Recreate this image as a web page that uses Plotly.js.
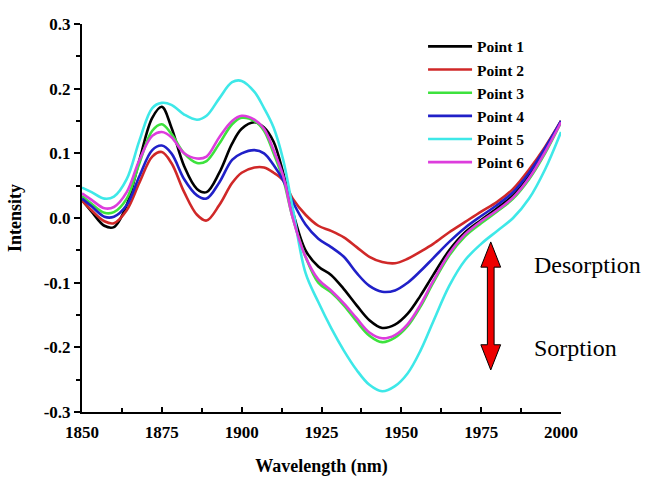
<!DOCTYPE html>
<html>
<head>
<meta charset="utf-8">
<script src="https://cdn.plot.ly/plotly-3.0.1.min.js"></script>
<style>html,body{margin:0;padding:0;background:#fff;}#chart{width:653px;height:477px;}</style>
</head>
<body>
<div id="chart"></div>
<script>
const wavelength = [1850,1853,1857,1860,1864,1868,1872,1875,1878,1882,1886,1889,1893,1897,1900,1904,1907,1910,1913,1916,1920,1924,1928,1932,1936,1940,1944,1948,1952,1956,1960,1965,1970,1975,1980,1985,1990,1995,2000];

const point1 = [0.028,0.010,-0.012,-0.014,0.020,0.090,0.155,0.172,0.140,0.080,0.045,0.040,0.070,0.115,0.138,0.148,0.140,0.118,0.070,0.010,-0.050,-0.075,-0.088,-0.110,-0.135,-0.158,-0.170,-0.165,-0.148,-0.120,-0.088,-0.050,-0.022,-0.003,0.015,0.035,0.065,0.105,0.150];
const point2 = [0.027,0.012,-0.005,-0.008,0.012,0.055,0.095,0.102,0.085,0.040,0.005,-0.004,0.020,0.054,0.070,0.078,0.078,0.070,0.058,0.030,0.005,-0.012,-0.020,-0.030,-0.045,-0.060,-0.068,-0.070,-0.063,-0.052,-0.040,-0.022,-0.006,0.010,0.025,0.045,0.075,0.110,0.150];
const point3 = [0.034,0.022,0.008,0.009,0.030,0.085,0.135,0.145,0.130,0.100,0.085,0.088,0.115,0.145,0.155,0.150,0.135,0.100,0.060,0.000,-0.060,-0.100,-0.115,-0.135,-0.160,-0.182,-0.192,-0.185,-0.167,-0.137,-0.100,-0.058,-0.028,-0.008,0.010,0.030,0.060,0.100,0.148];
const point4 = [0.030,0.018,0.002,0.002,0.020,0.065,0.105,0.112,0.100,0.060,0.035,0.030,0.055,0.090,0.100,0.105,0.100,0.082,0.058,0.025,-0.010,-0.032,-0.045,-0.060,-0.085,-0.105,-0.114,-0.112,-0.100,-0.082,-0.062,-0.037,-0.015,0.003,0.020,0.040,0.070,0.108,0.150];
const point5 = [0.047,0.040,0.030,0.033,0.060,0.120,0.170,0.178,0.175,0.160,0.152,0.158,0.185,0.210,0.212,0.195,0.170,0.140,0.090,0.015,-0.085,-0.130,-0.170,-0.205,-0.235,-0.258,-0.268,-0.260,-0.240,-0.205,-0.160,-0.105,-0.065,-0.040,-0.020,0.000,0.030,0.075,0.133];
const point6 = [0.038,0.028,0.015,0.017,0.040,0.090,0.127,0.133,0.125,0.100,0.092,0.095,0.125,0.150,0.158,0.152,0.138,0.105,0.065,0.000,-0.060,-0.095,-0.112,-0.132,-0.155,-0.177,-0.186,-0.181,-0.164,-0.134,-0.097,-0.055,-0.025,-0.005,0.012,0.032,0.062,0.102,0.148];

const seriesNames = ["Point 1","Point 2","Point 3","Point 4","Point 5","Point 6"];
const seriesValues = [point1, point2, point3, point4, point5, point6];
const seriesColors = ["#000000","#d02828","#3de23d","#2020c8","#3ee8e8","#dd3ddd"];

const yTickVals = [-0.3,-0.2,-0.1,0.0,0.1,0.2,0.3];
const yTickText = ["-0.3","-0.2","-0.1","0.0","0.1","0.2","0.3"];

const arrowX = 1978;
const arrowTop = -0.037, arrowTopBase = -0.076, arrowBotBase = -0.196, arrowBot = -0.235;
const headHalf = 3.1, shaftHalf = 1.05;

const serif = "Liberation Serif, Times New Roman, serif";

const traces = seriesNames.map((n, i) => ({
  x: wavelength, y: seriesValues[i], name: n, type: "scatter", mode: "lines",
  line: {color: seriesColors[i], width: 2.6, shape: "spline", smoothing: 1}
}));

const arrowPath = `M${arrowX},${arrowTop} L${arrowX+headHalf},${arrowTopBase} L${arrowX+shaftHalf},${arrowTopBase} L${arrowX+shaftHalf},${arrowBotBase} L${arrowX+headHalf},${arrowBotBase} L${arrowX},${arrowBot} L${arrowX-headHalf},${arrowBotBase} L${arrowX-shaftHalf},${arrowBotBase} L${arrowX-shaftHalf},${arrowTopBase} L${arrowX-headHalf},${arrowTopBase} Z`;

const layout = {
  width: 653, height: 477,
  margin: {l: 82, r: 92, t: 24, b: 65},
  paper_bgcolor: "#fff", plot_bgcolor: "#fff",
  showlegend: true,
  legend: {x: 0.712, y: 0.985, xanchor: "left", yanchor: "top", bgcolor: "rgba(0,0,0,0)",
    font: {family: serif, size: 15.5, color: "#000", weight: "bold"},
    itemwidth: 44},
  xaxis: {range: [1850, 2000], tick0: 1850, dtick: 25, ticks: "inside", ticklen: 5, tickwidth: 2, tickcolor: "#000",
    showline: true, linewidth: 2, linecolor: "#000", showgrid: false, zeroline: false,
    tickfont: {family: serif, size: 17, color: "#000", weight: "bold"},
    ticklabelstandoff: 4,
    minor: {dtick: 12.5, tick0: 1850, ticks: "inside", ticklen: 4, tickwidth: 2, tickcolor: "#000", showgrid: false},
    title: {text: "Wavelength (nm)", font: {family: serif, size: 18, color: "#000", weight: "bold"}, standoff: 22}},
  yaxis: {range: [-0.3, 0.3], tickmode: "array", tickvals: yTickVals, ticktext: yTickText,
    ticks: "outside", ticklen: 6, tickwidth: 2, tickcolor: "#000",
    showline: true, linewidth: 2, linecolor: "#000", showgrid: false, zeroline: false,
    tickfont: {family: serif, size: 17, color: "#000", weight: "bold"},
    minor: {tickmode: "linear", tick0: -0.3, dtick: 0.05, ticks: "outside", ticklen: 4, tickwidth: 2, tickcolor: "#000", showgrid: false},
    title: {text: "Intensity", font: {family: serif, size: 18, color: "#000", weight: "bold"}, standoff: 17}},
  shapes: [{type: "path", xref: "x", yref: "y", path: arrowPath, fillcolor: "#ee0000", line: {color: "#000", width: 1}, layer: "above"}],
  annotations: [
    {x: 1991, y: -0.073, xref: "x", yref: "y", text: "Desorption", showarrow: false, xanchor: "left", yanchor: "middle",
      font: {family: serif, size: 24, color: "#000"}},
    {x: 1991, y: -0.201, xref: "x", yref: "y", text: "Sorption", showarrow: false, xanchor: "left", yanchor: "middle",
      font: {family: serif, size: 24, color: "#000"}}
  ]
};

Plotly.newPlot("chart", traces, layout, {displayModeBar: false, staticPlot: true});
</script>
</body>
</html>
